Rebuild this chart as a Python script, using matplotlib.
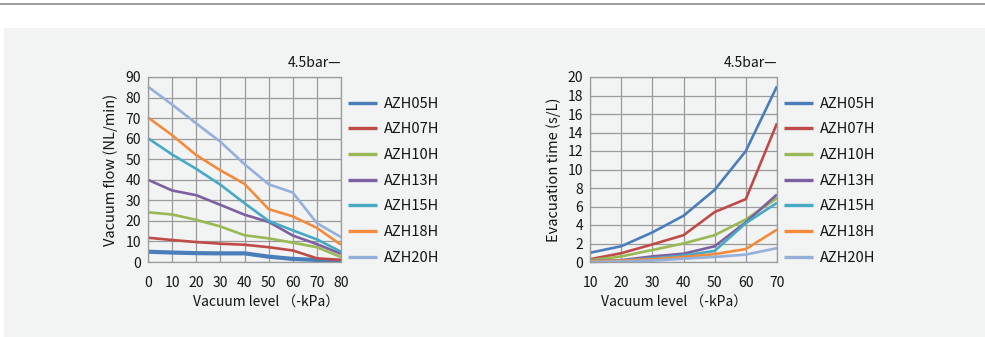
import matplotlib
import matplotlib.pyplot as plt
from matplotlib.patches import Rectangle
from matplotlib.lines import Line2D

matplotlib.use("Agg")

plt.rcParams["font.family"] = ["Noto Sans CJK JP", "DejaVu Sans"]

MODELS = ["AZH05H", "AZH07H", "AZH10H", "AZH13H", "AZH15H", "AZH18H", "AZH20H"]
COLORS = ["#4a7ebb", "#be4b48", "#98b954", "#7d60a0", "#46aac5", "#f28c3c", "#95b0da"]

# Vacuum flow (NL/min) vs vacuum level (-kPa)
FLOW_LEVELS = [0, 10, 20, 30, 40, 50, 60, 70, 80]
FLOW_05 = [5.0, 4.6, 4.3, 4.2, 4.2, 2.6, 1.5, 1.0, 0.5]
FLOW_07 = [11.8, 10.7, 9.7, 8.9, 8.4, 7.2, 5.6, 1.8, 1.0]
FLOW_10 = [24.2, 23.1, 20.5, 17.3, 13.0, 11.5, 9.4, 7.2, 2.4]
FLOW_13 = [40.0, 34.8, 32.5, 27.8, 23.0, 19.5, 12.9, 8.7, 4.0]
FLOW_15 = [60.2, 52.3, 45.3, 37.6, 28.6, 20.0, 15.4, 11.0, 5.0]
FLOW_18 = [70.3, 61.7, 52.0, 44.6, 38.0, 25.7, 22.2, 16.6, 8.4]
FLOW_20 = [85.3, 76.6, 67.4, 58.5, 47.6, 37.8, 33.8, 18.9, 12.1]

# Evacuation time (s/L) vs vacuum level (-kPa)
EVAC_LEVELS = [10, 20, 30, 40, 50, 60, 70]
EVAC_05 = [1.0, 1.7, 3.2, 5.0, 7.8, 12.0, 19.0]
EVAC_07 = [0.3, 0.95, 1.9, 2.9, 5.4, 6.8, 15.0]
EVAC_10 = [0.2, 0.6, 1.3, 2.0, 2.9, 4.6, 6.9]
EVAC_13 = [0.1, 0.2, 0.6, 0.9, 1.7, 4.3, 7.3]
EVAC_15 = [0.05, 0.15, 0.4, 0.7, 1.2, 4.2, 6.4]
EVAC_18 = [0.1, 0.15, 0.3, 0.55, 0.85, 1.4, 3.5]
EVAC_20 = [0.0, 0.05, 0.15, 0.35, 0.55, 0.8, 1.5]

FLOW = [FLOW_05, FLOW_07, FLOW_10, FLOW_13, FLOW_15, FLOW_18, FLOW_20]
EVAC = [EVAC_05, EVAC_07, EVAC_10, EVAC_13, EVAC_15, EVAC_18, EVAC_20]

W, H = 985, 337
fig = plt.figure(figsize=(W / 100, H / 100), dpi=100)
fig.patch.set_facecolor("white")

# top rule and grey panel
fig.add_artist(Line2D([0, 1], [1 - 4 / H, 1 - 4 / H], color="#8c8c8c", lw=1.2))
fig.add_artist(Rectangle((4 / W, 0), 1 - 4 / W, 1 - 28 / H, facecolor="#f2f3f3",
                         edgecolor="none", zorder=0))


def px_axes(x0, x1, y0, y1):
    return fig.add_axes([x0 / W, 1 - y1 / H, (x1 - x0) / W, (y1 - y0) / H])


def style(ax, xticks, ymax, ystep, xlabel, ylabel, ylabel_x, xlabel_x):
    ax.set_facecolor("none")
    ax.set_xlim(xticks[0], xticks[-1])
    ax.set_ylim(0, ymax)
    ax.set_xticks(xticks)
    ax.set_yticks(range(0, ymax + 1, ystep))
    ax.grid(True, color="#9a9a9a", lw=0.9)
    ax.set_axisbelow(True)
    for s in ax.spines.values():
        s.set_color("#9a9a9a")
        s.set_linewidth(0.9)
    ax.tick_params(length=0, labelsize=10, colors="#141414")
    ax.tick_params(axis="x", pad=10)
    ax.tick_params(axis="y", pad=5)
    ax.set_xlabel(xlabel, fontsize=10, color="#141414")
    ax.xaxis.set_label_coords(xlabel_x, -0.18)
    ax.set_ylabel(ylabel, fontsize=10.5, color="#141414")
    ax.yaxis.set_label_coords(ylabel_x, 0.5)


def legend(ax):
    leg = ax.legend(loc="upper left", bbox_to_anchor=(1.005, 0.925), frameon=False,
                    fontsize=10.5, handlelength=2.0, handletextpad=0.45,
                    labelspacing=0.8, borderaxespad=0)
    for t in leg.get_texts():
        t.set_color("#141414")
    for ln in leg.get_lines():
        ln.set_linewidth(2.4)


ax1 = px_axes(148, 341, 77, 262)
for i, (name, vals) in enumerate(zip(MODELS, FLOW)):
    ax1.plot(FLOW_LEVELS, vals, color=COLORS[i], lw=3.0 if i == 0 else 1.9,
             label=name, solid_capstyle="butt", clip_on=False)
style(ax1, FLOW_LEVELS, 90, 10, "Vacuum level （-kPa）", "Vacuum flow (NL/min)",
      -0.158, 0.61)
legend(ax1)
ax1.text(1.0, 1.04, "4.5bar—", transform=ax1.transAxes, ha="right", va="bottom",
         fontsize=10, color="#141414")

ax2 = px_axes(590, 777, 77, 262)
for i, (name, vals) in enumerate(zip(MODELS, EVAC)):
    ax2.plot(EVAC_LEVELS, vals, color=COLORS[i], lw=1.9, label=name,
             solid_capstyle="butt", clip_on=False)
style(ax2, EVAC_LEVELS, 20, 2, "Vacuum level （-kPa）", "Evacuation time (s/L)",
      -0.157, 0.45)
legend(ax2)
ax2.text(1.0, 1.04, "4.5bar—", transform=ax2.transAxes, ha="right", va="bottom",
         fontsize=10, color="#141414")

fig.savefig("out.png", dpi=100)
